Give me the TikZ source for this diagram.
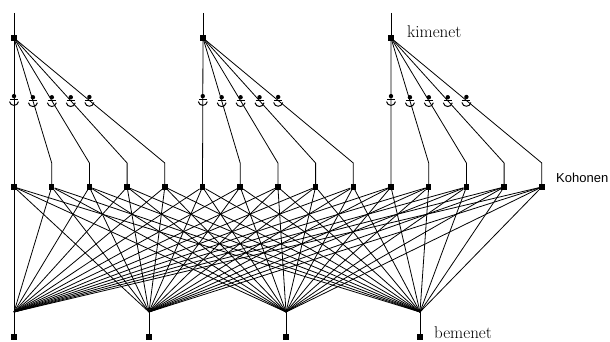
\documentclass[tikz,border=0pt]{standalone}
\usepackage{fontspec}
\newfontfamily\kohfont{Liberation Sans}
\usetikzlibrary{arrows}
\tikzstyle{unit} = [rectangle, fill = black, inner sep = 0pt, minimum size = 5.5pt]
\tikzstyle{link} = [line width = 0.8pt]
\tikzstyle{serifname} = [inner sep = 0pt, anchor = west, font = \fontsize{17}{20}\selectfont]
\tikzstyle{sansname} = [inner sep = 0pt, anchor = west, font = \kohfont\fontsize{13}{15}\selectfont]
\tikzset{weight/.pic = {
  \fill (0,-3.5) circle (2.2);
  \draw [line width = 1pt] (-4,0) -- (4,0);
  \draw [line width = 1pt] (-4.5,2) .. controls (-3.5,7) and (3.5,7) .. (4.5,2);
}}

\begin{document}
\begin{tikzpicture}[x = 1pt, y = -1pt]
\useasboundingbox (0,0) rectangle (610,342);

% kimenet
\foreach \i/\x in {1/14, 2/203, 3/391} {
  \node (out\i) [unit] at (\x,38) {};
  \coordinate (top\i) at (\x,13);
  \draw [link] (top\i) -- (out\i);
}

% Kohonen
\foreach \k in {0,...,14}
  \node (koh\k) [unit] at ({14+37.7*\k},187) {};

\foreach \i in {1,2,3} {
  \pgfmathtruncatemacro\first{5*(\i-1)}
  \draw [link] (out\i) -- pic [pos = 0.41] {weight} (koh\first);
  \foreach \j in {1,...,4} {
    \pgfmathtruncatemacro\k{\first+\j}
    \coordinate (bend\k) at (koh\k |- 0,163);
    \draw [link] (out\i) -- pic [pos = 0.49] {weight} (bend\k) -- (koh\k);
  }
}

% bemenet
\foreach \n/\x in {1/14, 2/149, 3/286, 4/420} {
  \node (in\n) [unit] at (\x,337) {};
  \coordinate (fan\n) at (\x,312);
  \draw [link] (in\n) -- (fan\n);
  \foreach \k in {0,...,14}
    \draw [link] (fan\n) -- (koh\k);
}

\node (kimenet) [serifname] at (407,32) {kimenet};
\node (kohonen) [sansname] at (556,178) {Kohonen};
\node (bemenet) [serifname] at (434,333) {bemenet};

\end{tikzpicture}
\end{document}
